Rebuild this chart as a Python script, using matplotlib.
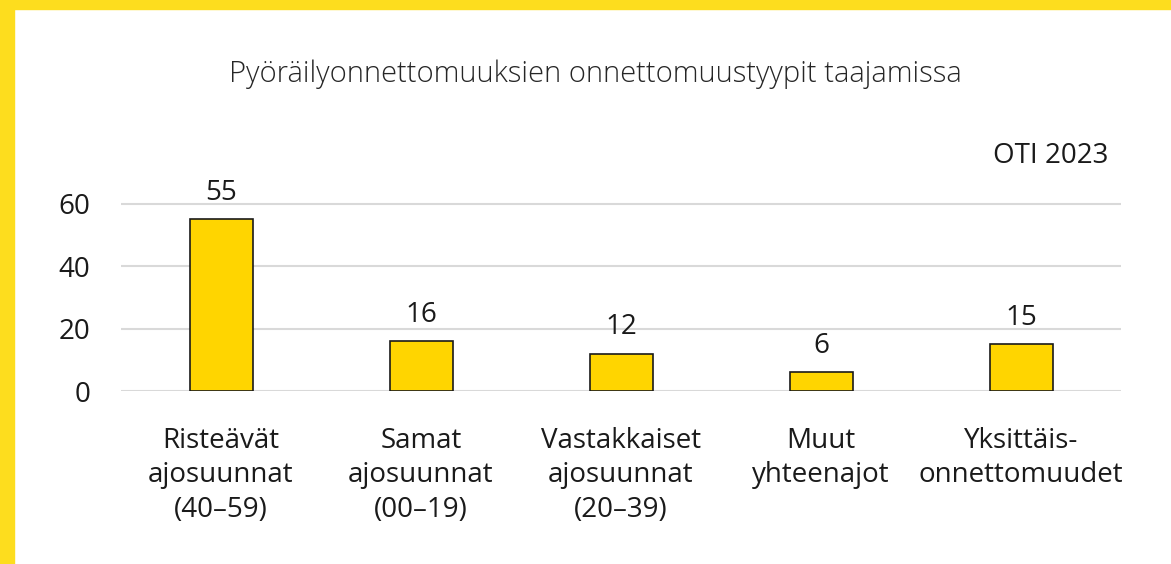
import matplotlib.pyplot as plt
from matplotlib.patches import Rectangle

plt.rcParams['font.family'] = ['Open Sans', 'DejaVu Sans']

categories = ["Risteävät\najosuunnat\n(40–59)", "Samat\najosuunnat\n(00–19)",
              "Vastakkaiset\najosuunnat\n(20–39)", "Muut\nyhteenajot",
              "Yksittäis-\nonnettomuudet"]
values = [55, 16, 12, 6, 15]
yticks = [0, 20, 40, 60]

fig = plt.figure(figsize=(11.71, 5.64), dpi=100)
ax = fig.add_axes([121 / 1171, 1 - 391 / 564, 1000 / 1171, 203 / 564])

# keltainen reunus ylhäällä ja vasemmalla
fig.patches.append(Rectangle((0, 1 - 9 / 564), 1, 9 / 564, transform=fig.transFigure,
                             color="#FDDD1E", zorder=0))
fig.patches.append(Rectangle((0, 0), 14 / 1171, 1, transform=fig.transFigure,
                             color="#FDDD1E", zorder=0))

x = range(len(categories))
bars = ax.bar(x, values, width=0.315, color="#FFD500", edgecolor="#1a1a1a",
              linewidth=1.2, zorder=3)
for xi, v in zip(x, values):
    ax.annotate(str(v), (xi, v), xytext=(0, 9), textcoords="offset points",
                ha="center", va="bottom", fontsize=20, color="#1a1a1a")

ax.set_xlim(-0.5, len(categories) - 0.5)
ax.set_ylim(0, 65)
ax.set_yticks(yticks)
ax.set_xticks(list(x))
ax.set_xticklabels(categories, fontsize=20, color="#1a1a1a", linespacing=1.3)
ax.tick_params(axis="x", length=0, pad=26)
ax.tick_params(axis="y", length=0, pad=22, labelsize=20, labelcolor="#1a1a1a")
ax.grid(axis="y", color="#d9d9d9", linewidth=1.5, zorder=0)
for s in ax.spines.values():
    s.set_visible(False)

fig.text(595 / 1171, 1 - 74 / 564, "Pyöräilyonnettomuuksien onnettomuustyypit taajamissa",
         ha="center", va="center", fontsize=21, color="#262626", fontweight="light")
fig.text(1108 / 1171, 1 - 156 / 564, "OTI 2023", ha="right", va="center",
         fontsize=20, color="#1a1a1a")

fig.savefig("out.png", dpi=100)
